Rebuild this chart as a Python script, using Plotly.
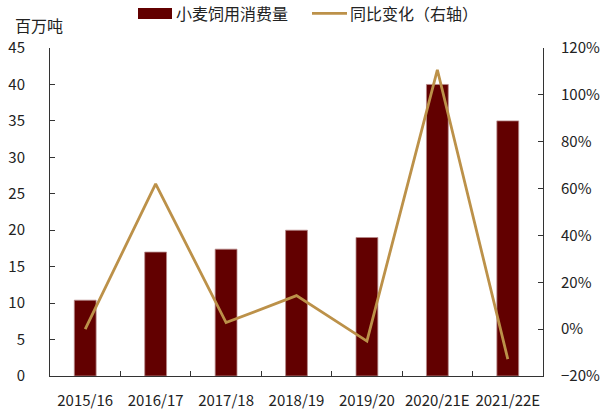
import plotly.graph_objects as go

years = ["2015/16", "2016/17", "2017/18", "2018/19", "2019/20", "2020/21E", "2021/22E"]
feed_use = [10.4, 17.0, 17.4, 20.0, 19.0, 40.0, 35.0]       # 百万吨
yoy = [0.00, 0.62, 0.028, 0.143, -0.051, 1.107, -0.128]     # 同比变化

BAR = "#620000"
LINE = "#BC9149"
AX = "#333333"
TXT = "#222222"
FONT = "Noto Sans CJK SC"

W, H = 606, 419
L, R, T, B = 50, 63, 48, 43
pw, ph = W - L - R, H - T - B

def px(x):  # pixel x -> paper
    return (x - L) / pw

def py(y):  # pixel y -> paper
    return (H - B - y) / ph

fig = go.Figure()
fig.add_trace(go.Bar(x=years, y=feed_use, width=0.31,
                     marker=dict(color=BAR, line=dict(color="#B88A8A", width=0.8)),
                     name="小麦饲用消费量", hoverinfo="skip"))
fig.add_trace(go.Scatter(x=years, y=yoy, yaxis="y2", mode="lines", line=dict(color=LINE, width=2.8),
                         name="同比变化（右轴）", hoverinfo="skip"))

fig.update_layout(
    width=W, height=H, margin=dict(l=L, r=R, t=T, b=B, autoexpand=False),
    paper_bgcolor="white", plot_bgcolor="white", showlegend=False,
    font=dict(family=FONT, size=15, color=TXT),
    xaxis=dict(showline=True, linecolor=AX, linewidth=1, ticks="inside", ticklen=5, tickcolor=AX,
               tickson="boundaries", showgrid=False, tickfont=dict(size=15), tickangle=0,
               ticklabelstandoff=11, automargin=False),
    yaxis=dict(range=[0, 45], dtick=5, showline=True, linecolor=AX, linewidth=1, ticks="inside",
               ticklen=5, tickcolor=AX, showgrid=False, zeroline=False, ticklabelstandoff=21,
               automargin=False),
    yaxis2=dict(range=[-0.2, 1.2], dtick=0.2, tickformat=".0%", overlaying="y", side="right",
                showline=True, linecolor=AX, linewidth=1, ticks="inside", ticklen=5, tickcolor=AX,
                showgrid=False, zeroline=False, ticklabelstandoff=14, automargin=False),
)

# legend drawn by hand
fig.add_shape(type="rect", xref="paper", yref="paper", x0=px(138), x1=px(172), y0=py(19), y1=py(8),
              fillcolor=BAR, line=dict(width=0))
fig.add_annotation(xref="paper", yref="paper", x=px(174), y=py(12.5), xanchor="left", yanchor="middle",
                   text="小麦饲用消费量", showarrow=False, font=dict(size=16, color=TXT))
fig.add_shape(type="line", xref="paper", yref="paper", x0=px(312), x1=px(347), y0=py(13.3), y1=py(13.3),
              line=dict(color=LINE, width=2.8))
fig.add_annotation(xref="paper", yref="paper", x=px(348), y=py(12.5), xanchor="left", yanchor="middle",
                   text="同比变化（右轴）", showarrow=False, font=dict(size=16, color=TXT))
fig.add_annotation(xref="paper", yref="paper", x=px(13), y=py(25), xanchor="left", yanchor="middle",
                   text="百万吨", showarrow=False, font=dict(size=16, color=TXT))

# drop the default page margin so the figure sits at the window's corner
fig.write_html("out.html", config={"displayModeBar": False, "staticPlot": True},
               post_script="document.body.style.margin='0';")
